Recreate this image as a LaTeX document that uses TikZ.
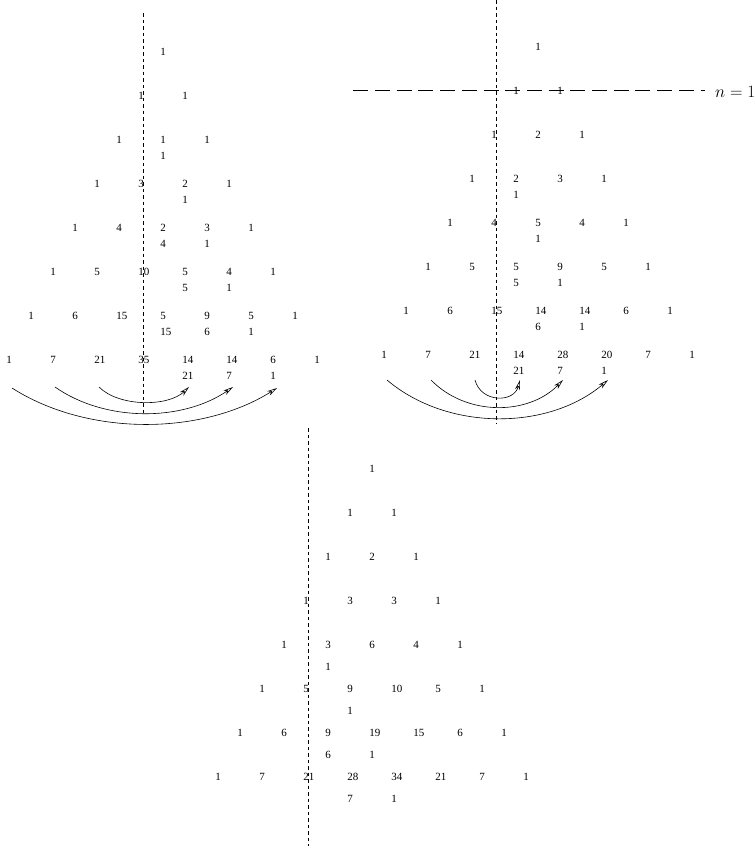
\documentclass[tikz,border=0pt]{standalone}
\usepackage{fontspec}
\setmainfont{Liberation Serif}
\usetikzlibrary{arrows.meta}

\begin{document}
\begin{tikzpicture}[x=1pt,y=-1pt,
  num/.style={anchor=base west,inner sep=0pt,font=\fontsize{11}{13}\selectfont},
  axis/.style={dash pattern=on 3.5pt off 3pt,line width=0.6pt},
  cut/.style={dash pattern=on 15pt off 6.7pt,line width=0.6pt},
  fold/.style={-{Stealth[length=10pt,width=5pt,open,inset=3pt]},line width=0.6pt}
]
  \fill[white] (0,0) rectangle (755,849);
  \useasboundingbox (0,0) rectangle (755,849);

  % left triangle, apex at (163,52)
  \foreach \r/\vals in {0/{1},1/{1,1},2/{1,1,1},3/{1,3,2,1},4/{1,4,2,3,1},5/{1,5,10,5,4,1},6/{1,6,15,5,9,5,1},7/{1,7,21,35,14,14,6,1}}
    \foreach \v [count=\k from 0] in \vals
      \node[num] (L\r-\k) at ({163-22*\r+44*\k-2.75},{52+44*\r+3.8}) {\v};
  \foreach \r/\s/\vals in {2/1/{1},3/2/{1},4/2/{4,1},5/3/{5,1},6/3/{15,6,1},7/4/{21,7,1}}
    \foreach \v [count=\k from \s] in \vals
      \node[num] (L\r-s\k) at ({163-22*\r+44*\k-2.75},{52+44*\r+16+3.8}) {\v};
  \coordinate (Ltop) at (143.5,13);
  \coordinate (Lbot) at (143.5,413);
  \draw[axis] (Ltop) -- (Lbot);
  \coordinate (La1) at (99,387);  \coordinate (Lb1) at (189,387);
  \coordinate (La2) at (55,387);  \coordinate (Lb2) at (233,387);
  \coordinate (La3) at (12,388);  \coordinate (Lb3) at (277,388);
  \draw[fold] (La1) .. controls (119,407) and (168,407) .. (Lb1);
  \draw[fold] (La2) .. controls (105,422) and (182,422) .. (Lb2);
  \draw[fold] (La3) .. controls (87,436) and (201,436) .. (Lb3);

  % right triangle, apex at (538,47)
  \foreach \r/\vals in {0/{1},1/{1,1},2/{1,2,1},3/{1,2,3,1},4/{1,4,5,4,1},5/{1,5,5,9,5,1},6/{1,6,15,14,14,6,1},7/{1,7,21,14,28,20,7,1}}
    \foreach \v [count=\k from 0] in \vals
      \node[num] (R\r-\k) at ({538-22*\r+44*\k-2.75},{47+44*\r+3.8}) {\v};
  \foreach \r/\s/\vals in {3/1/{1},4/2/{1},5/2/{5,1},6/3/{6,1},7/3/{21,7,1}}
    \foreach \v [count=\k from \s] in \vals
      \node[num] (R\r-s\k) at ({538-22*\r+44*\k-2.75},{47+44*\r+16+3.8}) {\v};
  \coordinate (Rtop) at (496.5,0);
  \coordinate (Rbot) at (496.5,424);
  \draw[axis] (Rtop) -- (Rbot);
  \node[anchor=base west,inner sep=0pt,font=\fontsize{17}{20}\selectfont] (nlabel) at (715,97) {$n=1$};
  \coordinate (cutL) at (353.3,90);
  \coordinate (cutR) at (705,90);
  \draw[cut] (cutL) -- (cutR);
  \coordinate (Ra1) at (475,380); \coordinate (Rb1) at (520,380);
  \coordinate (Ra2) at (431,380); \coordinate (Rb2) at (563,380);
  \coordinate (Ra3) at (387,380); \coordinate (Rb3) at (608,380);
  \draw[fold] (Ra1) .. controls (481,403) and (514,403) .. (Rb1);
  \draw[fold] (Ra2) .. controls (466,416) and (528,416) .. (Rb2);
  \draw[fold] (Ra3) .. controls (447,431) and (548,431) .. (Rb3);

  % bottom triangle, apex at (372,469)
  \foreach \r/\vals in {0/{1},1/{1,1},2/{1,2,1},3/{1,3,3,1},4/{1,3,6,4,1},5/{1,5,9,10,5,1},6/{1,6,9,19,15,6,1},7/{1,7,21,28,34,21,7,1}}
    \foreach \v [count=\k from 0] in \vals
      \node[num] (B\r-\k) at ({372-22*\r+44*\k-2.75},{469+44*\r+3.8}) {\v};
  \foreach \r/\s/\vals in {4/1/{1},5/2/{1},6/2/{6,1},7/3/{7,1}}
    \foreach \v [count=\k from \s] in \vals
      \node[num] (B\r-s\k) at ({372-22*\r+44*\k-2.75},{469+44*\r+22+3.8}) {\v};
  \coordinate (Btop) at (308.5,428);
  \coordinate (Bbot) at (308.5,846);
  \draw[axis] (Btop) -- (Bbot);
\end{tikzpicture}
\end{document}
